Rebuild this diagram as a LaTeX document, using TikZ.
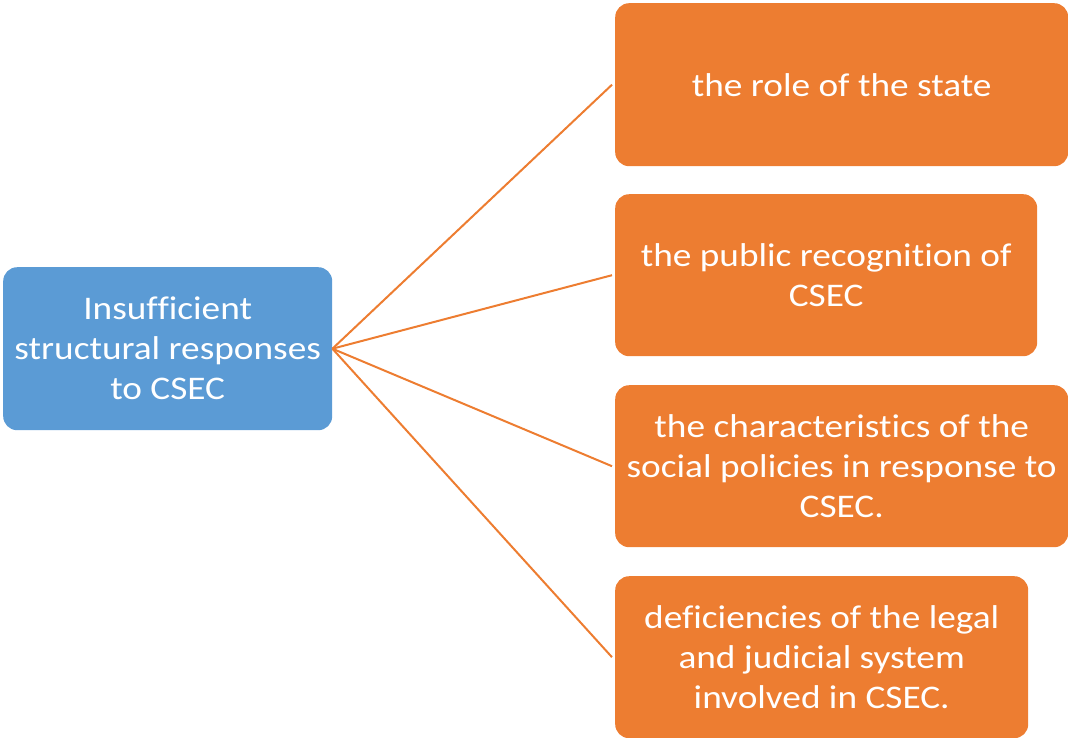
\documentclass[tikz,border=0pt]{standalone}
\usepackage{fontspec}
\setmainfont{Carlito}[FakeStretch=1.13, RawFeature={-liga}]
\definecolor{boxblue}{HTML}{5B9BD5}
\definecolor{boxorange}{HTML}{ED7D31}
\begin{document}
\begin{tikzpicture}[x=1pt,y=-1pt,
  box/.style={rounded corners=14pt, inner sep=0pt, align=center, text=white,
    font=\fontsize{33}{40}\selectfont, anchor=north west},
  link/.style={draw=boxorange, line width=2pt}]
\useasboundingbox (0,0) rectangle (1068,737);
\node[box, fill=boxblue, minimum width=329pt, minimum height=163pt] (root) at (3,267)
  {Insufficient\\structural responses\\to CSEC};
\node[box, fill=boxorange, minimum width=453pt, minimum height=163pt] (b1) at (615,3)
  {the role of the state};
\node[box, fill=boxorange, minimum width=422pt, minimum height=162pt] (b2) at (615,194)
  {the public recognition of\\CSEC};
\node[box, fill=boxorange, minimum width=453pt, minimum height=162pt] (b3) at (615,385)
  {the characteristics of the\\social policies in response to\\CSEC.};
\node[box, fill=boxorange, minimum width=413pt, minimum height=162pt] (b4) at (615,576)
  {deficiencies of the legal\\and judicial system\\involved in CSEC.};
\foreach \b in {b1,b2,b3,b4}
  \draw[link] (root.east) -- ([xshift=-3pt]\b.west);
\end{tikzpicture}
\end{document}
